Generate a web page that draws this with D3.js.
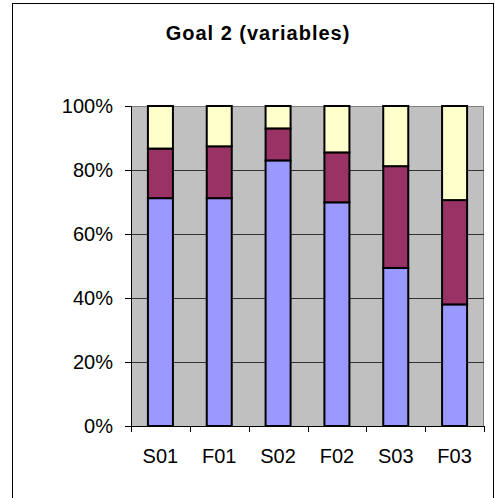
<!DOCTYPE html>
<html>
<head>
<meta charset="utf-8">
<script src="https://cdn.jsdelivr.net/npm/d3@7"></script>
<style>
  html, body { margin: 0; padding: 0; background: #fff; }
  svg { display: block; font-family: "Liberation Sans", Arial, sans-serif; }
</style>
</head>
<body>
<svg id="chart" width="495" height="498"></svg>
<script>
// Stacked 100% columns: three response shares per survey wave
const categories = ["S01", "F01", "S02", "F02", "S03", "F03"];
const seriesNames = ["low", "mid", "high"];
const lowValues  = [71.2, 71.2, 83.0, 69.9, 49.4, 38.0];
const midValues  = [15.5, 16.2, 10.0, 15.6, 31.8, 32.6];
const highValues = [13.3, 12.6, 7.0, 14.5, 18.8, 29.4];
const seriesColors = ["#9999FF", "#993366", "#FFFFCC"];
const yTicks = [0, 0.2, 0.4, 0.6, 0.8, 1.0];
const titleText = "Goal 2 (variables)";

const svg = d3.select("#chart");

// outer chart frame
svg.append("rect")
  .attr("x", 12.5).attr("y", 3.5)
  .attr("width", 481).attr("height", 500)
  .attr("fill", "#fff").attr("stroke", "#000").attr("stroke-width", 1);

svg.append("text")
  .attr("x", 258).attr("y", 40)
  .attr("text-anchor", "middle")
  .attr("font-size", 20).attr("font-weight", "bold")
  .attr("letter-spacing", "1px")
  .text(titleText);

const plot = { left: 131, right: 484, top: 106, bottom: 426 };

const x = d3.scaleBand()
  .domain(categories)
  .range([plot.left, plot.right])
  .paddingInner(0.575).paddingOuter(0.2875);

const y = d3.scaleLinear().domain([0, 1]).range([plot.bottom, plot.top]);

// plot background
svg.append("rect")
  .attr("x", plot.left).attr("y", plot.top)
  .attr("width", plot.right - plot.left).attr("height", plot.bottom - plot.top)
  .attr("fill", "#C0C0C0");

// top/right plot border
svg.append("path")
  .attr("d", `M${plot.left},${plot.top + 0.5}H${plot.right - 0.5}V${plot.bottom}`)
  .attr("fill", "none").attr("stroke", "#808080").attr("stroke-width", 1);

// horizontal gridlines
svg.append("g")
  .selectAll("line")
  .data(yTicks.filter(t => t > 0 && t < 1))
  .join("line")
  .attr("x1", plot.left).attr("x2", plot.right)
  .attr("y1", d => Math.round(y(d)) + 0.5).attr("y2", d => Math.round(y(d)) + 0.5)
  .attr("stroke", "#333").attr("stroke-width", 1);

// stacked data
const rows = categories.map((c, i) => {
  const total = lowValues[i] + midValues[i] + highValues[i];
  return { cat: c, low: lowValues[i] / total, mid: midValues[i] / total, high: highValues[i] / total };
});
const stack = d3.stack().keys(seriesNames);
const layers = stack(rows);

svg.append("g")
  .selectAll("g")
  .data(layers)
  .join("g")
  .attr("fill", (d, i) => seriesColors[i])
  .selectAll("rect")
  .data(d => d)
  .join("rect")
  .attr("x", d => x(d.data.cat))
  .attr("width", x.bandwidth())
  .attr("y", d => y(d[1]))
  .attr("height", d => y(d[0]) - y(d[1]))
  .attr("stroke", "#000").attr("stroke-width", 2);

// y axis
const yAxis = d3.axisLeft(y)
  .tickValues(yTicks)
  .tickFormat(d3.format(".0%"))
  .tickSize(6).tickPadding(12);
const gy = svg.append("g").attr("transform", `translate(${plot.left},0)`).call(yAxis);
gy.select(".domain").attr("stroke", "#000");
gy.selectAll(".tick line").attr("stroke", "#000");
gy.selectAll("text").attr("font-size", 20).attr("fill", "#000")
  .attr("font-family", "Liberation Sans, Arial, sans-serif");

// x axis with ticks between categories
const gx = svg.append("g").attr("transform", `translate(0,${plot.bottom})`);
gx.append("line")
  .attr("x1", plot.left).attr("x2", plot.right)
  .attr("y1", 0.5).attr("y2", 0.5).attr("stroke", "#000");
const boundaries = d3.range(categories.length + 1).map(i => plot.left + i * (plot.right - plot.left) / categories.length);
gx.selectAll("line.tk")
  .data(boundaries)
  .join("line").attr("class", "tk")
  .attr("x1", d => Math.round(d) + 0.5).attr("x2", d => Math.round(d) + 0.5)
  .attr("y1", 0).attr("y2", 6).attr("stroke", "#000");
gx.selectAll("text")
  .data(categories)
  .join("text")
  .attr("x", d => x(d) + x.bandwidth() / 2)
  .attr("y", 37)
  .attr("text-anchor", "middle")
  .attr("font-size", 20)
  .text(d => d);
</script>
</body>
</html>
